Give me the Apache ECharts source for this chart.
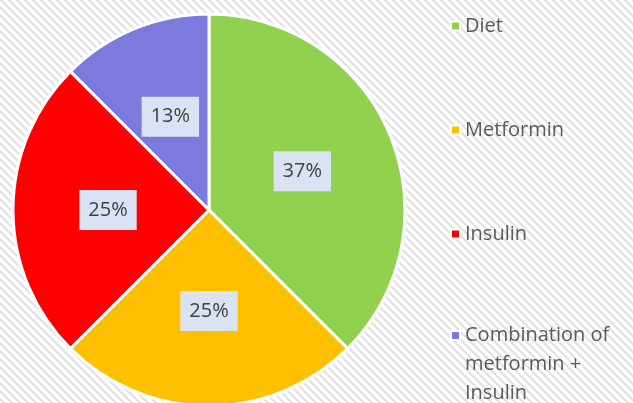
<!DOCTYPE html>
<html>
<head>
<meta charset="utf-8">
<title>pie</title>
<script src="https://cdn.jsdelivr.net/npm/echarts@6/dist/echarts.min.js"></script>
<style>
  html, body { margin: 0; padding: 0; }
  #main { width: 633px; height: 403px; }
</style>
</head>
<body>
<div id="main"></div>
<script>
// 分类
var categories = ['Diet', 'Metformin', 'Insulin', 'Combination of metformin + Insulin'];
// 份额
var shares = [37.5, 25, 25, 12.5];
// 标签文字（原图显示）
var pctLabels = ['37%', '25%', '25%', '13%'];
var colors = ['#92d050', '#ffc000', '#ff0000', '#7b7bdd'];

// 背景斜纹
function makePattern() {
  var c = document.createElement('canvas');
  c.width = 8; c.height = 8;
  var ctx = c.getContext('2d');
  ctx.fillStyle = '#ffffff';
  ctx.fillRect(0, 0, 8, 8);
  ctx.fillStyle = '#e3e3e3';
  for (var y = 0; y < 8; y++) {
    for (var k = 0; k < 3; k++) {
      ctx.fillRect((y + k) % 8, y, 1, 1);
    }
  }
  return c;
}

var chart = echarts.init(document.getElementById('main'));
var font = 'Open Sans';

var option = {
  backgroundColor: { image: makePattern(), repeat: 'repeat' },
  color: colors,
  legend: [
    {
      orient: 'vertical',
      left: 450,
      top: 16,
      padding: 0,
      itemGap: 84,
      itemWidth: 9,
      itemHeight: 9,
      icon: 'rect',
      data: categories.slice(0, 3),
      textStyle: { fontFamily: font, fontSize: 20, lineHeight: 20, color: '#595959' }
    },
    {
      orient: 'vertical',
      left: 450,
      top: 263,
      padding: 0,
      itemWidth: 9,
      itemHeight: 9,
      icon: 'rect',
      data: categories.slice(3),
      // 两个空行让第一行与图标对齐
      formatter: function () { return '\n\nCombination of\nmetformin +\nInsulin'; },
      textStyle: { fontFamily: font, fontSize: 20, lineHeight: 29, color: '#595959' }
    }
  ],
  series: [
    {
      type: 'pie',
      center: [209, 210],
      radius: 196,
      startAngle: 90,
      clockwise: true,
      silent: true,
      itemStyle: { borderColor: '#ffffff', borderWidth: 3 },
      label: {
        position: 'inside',
        formatter: function (p) { return pctLabels[p.dataIndex]; },
        fontFamily: font,
        fontSize: 20,
        lineHeight: 20,
        color: '#404040',
        backgroundColor: '#dae3f3',
        padding: [10, 9, 10, 9]
      },
      labelLine: { show: false },
      data: categories.map(function (n, i) { return { name: n, value: shares[i] }; })
    }
  ]
};
chart.setOption(option);
</script>
</body>
</html>
